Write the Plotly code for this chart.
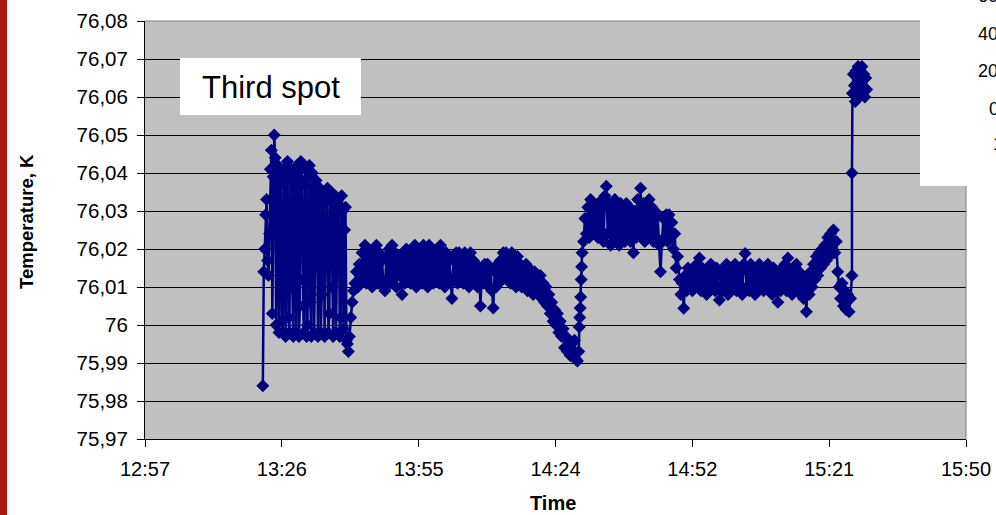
import plotly.graph_objects as go

# ---------------- data ----------------
# time: minutes after midnight; temperature stored as deviation from 76 K in mK
time_a = [802.4, 802.6, 802.8, 803.0, 803.2, 803.4, 803.6, 803.8, 804.0, 804.2,
          804.4, 804.6, 804.8, 805.0, 805.2, 805.4, 805.6, 805.8, 806.0, 806.2,
          806.4, 806.6, 806.8, 807.0, 807.2, 807.4, 807.6, 807.8, 808.0, 808.2,
          808.4, 808.6, 808.8, 809.0, 809.2, 809.4, 809.6, 809.8, 810.0, 810.2,
          810.4, 810.6, 810.8, 811.0, 811.2, 811.4, 811.6, 811.8, 812.0, 812.2,
          812.4, 812.6, 812.8, 813.0, 813.2, 813.4, 813.6, 813.8, 814.0, 814.2,
          814.4, 814.6, 814.8, 815.0, 815.2, 815.4, 815.6, 815.8, 816.0, 816.2,
          816.4, 816.6, 816.8, 817.0, 817.2, 817.4, 817.6, 817.8, 818.0, 818.2,
          818.4, 818.6, 818.8, 819.0, 819.2, 819.4, 819.6, 819.8, 820.0, 820.2,
          820.4]
dev_a = [-16, 14, 20, 29, 33, 17, 13, 24, 41, 46,
         3, 39, 50, 44, 0, 38, 42, -2, 40, 37,
         1, -2, 41, 39, -3, 40, 43, 2, -2, 38,
         41, 10, -3, 39, 36, -2, 42, 40, -3, 5,
         43, 38, 12, -2, 37, 41, -3, 0, 39, 42,
         6, -3, 40, 36, -2, 15, 38, 35, -3, 33,
         36, -2, 8, 35, 32, -3, 20, 34, 36, -2,
         3, 33, 35, 10, -3, 32, 34, -2, 18, 33,
         31, -3, 2, 34, 30, -1, 25, 31, -4, -5,
         -7]

time_b = [820.6, 820.9, 821.2, 821.5, 821.8, 822.1, 822.4, 822.7, 823.0, 823.3,
          823.6, 823.9, 824.2, 824.5, 824.8, 825.1, 825.4, 825.7, 826.0, 826.3,
          826.6, 826.9, 827.2, 827.5, 827.8, 828.1, 828.4, 828.7, 829.0, 829.3,
          829.6, 829.9, 830.2, 830.5, 830.8, 831.1, 831.4, 831.7, 832.0, 832.3,
          832.6, 832.9, 833.2, 833.5, 833.8, 834.1, 834.4, 834.7, 835.0, 835.3,
          835.6, 835.9, 836.2, 836.5, 836.8, 837.1, 837.4, 837.7, 838.0, 838.3,
          838.6, 838.9, 839.2, 839.5, 839.8, 840.1, 840.4, 840.7, 841.0, 841.3,
          841.6, 841.9, 842.2, 842.5, 842.8, 843.1, 843.4, 843.7, 844.0, 844.3,
          844.6, 844.9, 845.2, 845.5, 845.8, 846.1, 846.4, 846.7, 847.0, 847.3,
          847.6, 847.9, 848.2, 848.5, 848.8, 849.1, 849.4, 849.7, 850.0, 850.3,
          850.6, 850.9, 851.2, 851.5, 851.8, 852.1, 852.4, 852.7, 853.0, 853.3,
          853.6, 853.9, 854.2, 854.5, 854.8, 855.1, 855.4, 855.7, 856.0, 856.3,
          856.6, 856.9, 857.2, 857.5, 857.8, 858.1, 858.4, 858.7, 859.0, 859.3,
          859.6, 859.9, 860.2, 860.5, 860.8, 861.1, 861.4, 861.7, 862.0, 862.3,
          862.6, 862.9, 863.2, 863.5, 863.8, 864.1, 864.4, 864.7, 865.0, 865.3,
          865.6, 865.9, 866.2, 866.5, 866.8, 867.1, 867.4, 867.7, 868.0, 868.3,
          868.6, 868.9, 869.0, 869.1, 869.2, 869.3, 869.4, 869.5, 869.6]
dev_b = [-3, 2, 6, 9, 11, 14, 10, 16, 12, 19,
         13, 21, 11, 20, 12, 18, 10, 19, 13, 21,
         11, 19, 12, 17, 10, 9, 18, 12, 20, 11,
         21, 12, 19, 10, 18, 13, 17, 8, 19, 11,
         20, 12, 18, 11, 19, 13, 21, 10, 20, 12,
         18, 11, 21, 13, 19, 10, 21, 12, 18, 11,
         19, 12, 20, 11, 21, 13, 18, 10, 19, 12,
         18, 11, 7, 17, 12, 19, 11, 19, 13, 18,
         11, 19, 12, 18, 10, 19, 13, 17, 11, 16,
         10, 15, 5, 14, 11, 16, 12, 16, 10, 15,
         9, 4.5, 14, 10, 16, 11, 17, 12, 19, 13,
         19, 12, 18, 11, 19, 13, 17, 10, 18, 12,
         16, 10, 15, 11, 16, 9, 15, 10, 14, 8,
         14, 9, 13, 8, 13, 7, 11, 6, 10, 5,
         8, 3, 6, 1, 4, 0, 3, -2, 1, -3,
         -1, -6, -3, -7, -4, -8, -5, -7, -4, -9,
         -9.5, -7, -0.5, 2, 4.5, 7.4, 12, 15.3, 19]

time_c = [869.9, 870.2, 870.5, 870.8, 871.1, 871.4, 871.7, 872.0, 872.3, 872.6,
          872.9, 873.2, 873.5, 873.8, 874.1, 874.4, 874.7, 875.0, 875.3, 875.6,
          875.9, 876.2, 876.5, 876.8, 877.1, 877.4, 877.7, 878.0, 878.3, 878.6,
          878.9, 879.2, 879.5, 879.8, 880.1, 880.4, 880.7, 881.0, 881.3, 881.6,
          881.9, 882.2, 882.5, 882.8, 883.1, 883.4, 883.7, 884.0, 884.3, 884.6,
          884.9, 885.2, 885.5, 885.8, 886.1, 886.4, 886.7, 887.0, 887.3, 887.6,
          887.9, 888.2, 888.5, 888.8, 889.1, 889.4, 889.7]
dev_c = [22, 28, 24, 31, 23, 33, 25, 32, 24, 30,
         23, 31, 25, 33, 22, 34, 36.5, 24, 32, 21,
         30, 22, 33, 24, 31, 21, 32, 23, 30, 22,
         32, 24, 31, 22, 28, 19, 30, 23, 33, 24,
         36, 25, 32, 22, 31, 23, 33, 24, 31, 22,
         30, 23, 29, 21, 14, 22, 28, 23, 29, 22,
         29, 23, 27, 20, 24, 15, 18]

time_d = [890.1, 890.4, 890.7, 891.0, 891.3, 891.6, 891.9, 892.2, 892.5, 892.8,
          893.1, 893.4, 893.7, 894.0, 894.3, 894.6, 894.9, 895.2, 895.5, 895.8,
          896.1, 896.4, 896.7, 897.0, 897.3, 897.6, 897.9, 898.2, 898.5, 898.8,
          899.1, 899.4, 899.7, 900.0, 900.3, 900.6, 900.9, 901.2, 901.5, 901.8,
          902.1, 902.4, 902.7, 903.0, 903.3, 903.6, 903.9, 904.2, 904.5, 904.8,
          905.1, 905.4, 905.7, 906.0, 906.3, 906.6, 906.9, 907.2, 907.5, 907.8,
          908.1, 908.4, 908.7, 909.0, 909.3, 909.6, 909.9, 910.2, 910.5, 910.8,
          911.1, 911.4, 911.7, 912.0, 912.3, 912.6, 912.9, 913.2, 913.5, 913.8,
          914.1, 914.4, 914.7, 915.0, 915.3, 915.6, 915.9, 916.2, 916.5, 916.8,
          917.1, 917.4]
dev_d = [12, 8, 11, 4.4, 13, 9, 15, 10, 14, 9,
         15, 10, 16, 11, 17.6, 9, 15, 10, 14, 8,
         15, 9, 16, 10, 14, 9, 15, 10, 6.6, 13,
         9, 15, 10, 16, 8, 14, 9, 15, 10, 16,
         9, 15, 10, 14, 8, 16, 18.8, 10, 15, 9,
         16, 10, 14, 8, 15, 9, 16, 10, 14, 9,
         15, 10, 16, 9, 14, 8, 15, 9, 13, 6,
         14, 9, 15, 10, 16, 9, 17.6, 10, 14, 8,
         15, 9, 16, 10, 14, 8, 13, 7, 11, 3.5,
         12, 8]

time_e = [917.7, 918.0, 918.3, 918.6, 918.9, 919.2, 919.5, 919.8, 920.1, 920.4,
          920.7, 921.0, 921.3, 921.6, 921.9, 922.2, 922.5, 922.8, 923.1, 923.4,
          923.7, 924.0, 924.3, 924.6, 924.9, 925.2, 925.5, 925.8, 926.1, 926.4,
          926.4]
dev_e = [14, 10, 16, 12, 18, 13, 19, 15, 20, 16,
         21, 17, 23, 18, 24, 20, 25, 19, 22, 14,
         10, 7, 11, 5, 9, 4, 8, 3.5, 7, 13,
         40]

time_g = [926.5, 926.7, 926.9, 927.1, 927.3, 927.5, 927.7, 927.9, 928.1, 928.3,
          928.5, 928.7, 928.9, 929.1, 929.3, 929.5]
dev_g = [61, 66, 63, 58.8, 67, 62, 68, 60, 67, 63,
         68, 61, 66, 60, 65, 62]

x_tick_vals = [777.6, 806.4, 835.2, 864.0, 892.8, 921.6, 950.4]
x_tick_text = ["12:57", "13:26", "13:55", "14:24", "14:52", "15:21", "15:50"]
y_tick_vals = [75.97, 75.98, 75.99, 76.00, 76.01, 76.02, 76.03, 76.04, 76.05, 76.06, 76.07, 76.08]
y_tick_text = ["75,97", "75,98", "75,99", "76", "76,01", "76,02", "76,03",
               "76,04", "76,05", "76,06", "76,07", "76,08"]
side_labels = ["60", "40", "20", "0", "1"]

times = time_a + time_b + time_c + time_d + time_e + time_g
devs = dev_a + dev_b + dev_c + dev_d + dev_e + dev_g
assert len(times) == len(devs)
temps = [76.0 + d / 1000.0 for d in devs]   # mK -> K

# ---------------- layout geometry (pixels) ----------------
W, H = 996, 515
L, R, T, B = 145, 966, 21, 439
def px(x):
    return (x - L) / (R - L)
def py(y):
    return (B - y) / (B - T)

FONT = "Liberation Sans, Arial, sans-serif"
NAVY = "#000080"

fig = go.Figure()
fig.add_trace(go.Scatter(
    x=times, y=temps, mode="lines+markers",
    line=dict(color=NAVY, width=2.5),
    marker=dict(symbol="diamond", size=10, color=NAVY, line=dict(width=0)),
    showlegend=False, hoverinfo="skip"))

shapes = [
    dict(type="line", xref="paper", yref="paper", x0=0, x1=1, y0=1, y1=1,
         line=dict(color="#808080", width=1), layer="above"),
    dict(type="line", xref="paper", yref="paper", x0=1, x1=1, y0=0, y1=1,
         line=dict(color="#808080", width=1), layer="above"),
    dict(type="rect", xref="paper", yref="paper", x0=px(180), x1=px(361), y0=py(115), y1=py(58),
         fillcolor="white", line=dict(width=0), layer="above"),
    dict(type="rect", xref="paper", yref="paper", x0=px(0), x1=px(7), y0=py(H), y1=py(0),
         fillcolor="#A31A14", line=dict(width=0), layer="above"),
    dict(type="rect", xref="paper", yref="paper", x0=px(920), x1=px(W + 5), y0=py(186), y1=py(-5),
         fillcolor="white", line=dict(width=0), layer="above"),
]

annotations = [
    dict(text="Third spot", xref="paper", yref="paper", x=px(271), y=py(87),
         xanchor="center", yanchor="middle", showarrow=False,
         font=dict(family=FONT, size=31, color="black")),
    dict(text="<b>Temperature, K</b>", xref="paper", yref="paper", x=px(26), y=py(222),
         xanchor="center", yanchor="middle", showarrow=False, textangle=-90,
         font=dict(family=FONT, size=18.5, color="black")),
    dict(text="<b>Time</b>", xref="paper", yref="paper", x=px(553), y=py(503),
         xanchor="center", yanchor="middle", showarrow=False,
         font=dict(family=FONT, size=20, color="black")),
]
side_pos = [(976, -4), (976, 34), (976, 71), (987, 109), (991, 144)]
for lab, (sx, sy) in zip(side_labels, side_pos):
    annotations.append(dict(text=lab, xref="paper", yref="paper", x=px(sx), y=py(sy),
                            xanchor="left", yanchor="middle", showarrow=False,
                            font=dict(family=FONT, size=18, color="black")))

fig.update_layout(
    width=W, height=H, autosize=False,
    margin=dict(l=L, r=W - R, t=T, b=H - B, pad=0, autoexpand=False),
    paper_bgcolor="white", plot_bgcolor="#C0C0C0",
    font=dict(family=FONT, size=20, color="black"),
    shapes=shapes, annotations=annotations,
    xaxis=dict(range=[x_tick_vals[0], x_tick_vals[-1]], tickvals=x_tick_vals, ticktext=x_tick_text,
               ticks="outside", ticklen=7, tickcolor="black", tickwidth=1,
               showline=True, linecolor="black", linewidth=1, automargin=False,
               showgrid=False, zeroline=False, ticklabelstandoff=5,
               tickfont=dict(family=FONT, size=20, color="black")),
    yaxis=dict(range=[y_tick_vals[0], y_tick_vals[-1]], tickvals=y_tick_vals, ticktext=y_tick_text,
               ticks="outside", ticklen=7, tickcolor="black", tickwidth=1,
               showline=True, linecolor="black", linewidth=1, automargin=False,
               showgrid=True, gridcolor="black", gridwidth=1, zeroline=False,
               ticklabelstandoff=5,
               tickfont=dict(family=FONT, size=20.5, color="black")),
)

fig.write_html("out.html")
